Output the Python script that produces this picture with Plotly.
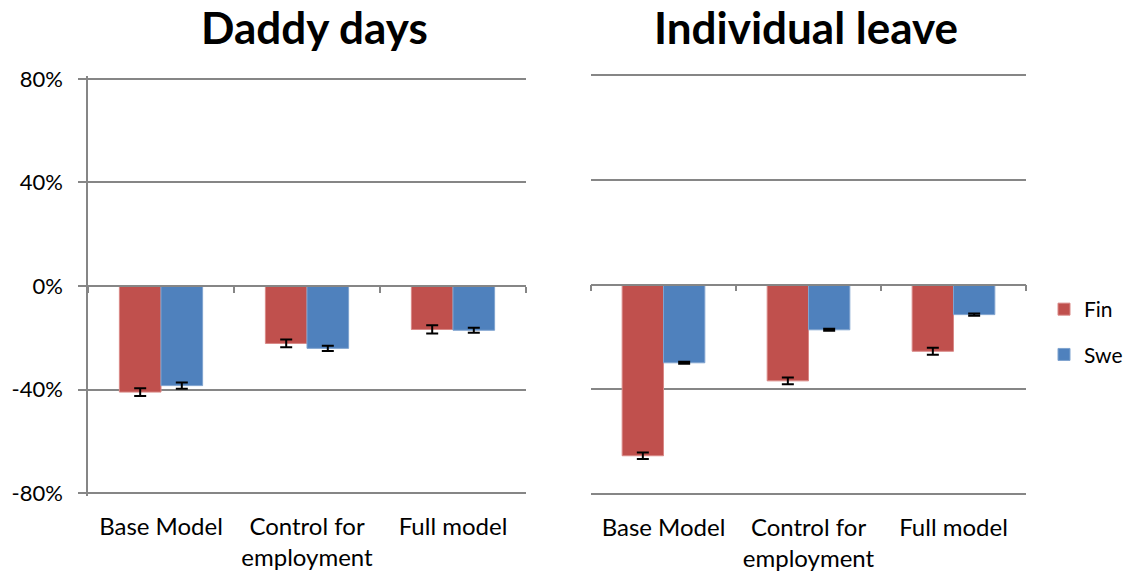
import plotly.graph_objects as go

categories = ["Base Model", "Control for<br>employment", "Full model"]
panels = ["Daddy days", "Individual leave"]

daddy_fin = [-41.0, -22.2, -16.8]
daddy_fin_err = [1.5, 1.5, 1.6]
daddy_swe = [-38.5, -24.1, -17.1]
daddy_swe_err = [1.2, 1.0, 1.0]

indiv_fin = [-65.4, -36.8, -25.5]
indiv_fin_err = [1.2, 1.3, 1.3]
indiv_swe = [-29.9, -17.3, -11.5]
indiv_swe_err = [0.4, 0.4, 0.4]

y_ticks = [-80, -40, 0, 40, 80]
y_tick_labels = ["-80%", "-40%", "0%", "40%", "80%"]
y_range = [-81, 81]

FIN_COLOR = "#C0504D"
SWE_COLOR = "#4F81BD"
GRID = "#868686"
FONT = "Lato"

W, H = 1127, 575

def px_x(a, b):
    return [a / W, b / W]

def px_y(top, bottom):
    return [(H - bottom) / H, (H - top) / H]

dom_x1 = px_x(88, 526)
dom_x2 = px_x(591, 1026)
dom_y1 = px_y(76.4, 495.6)
dom_y2 = px_y(72.4, 496.6)

fig = go.Figure()

def add_pair(fin, fin_err, swe, swe_err, xa, ya, show):
    fig.add_trace(go.Bar(
        x=categories, y=fin, name="Fin", marker=dict(color=FIN_COLOR, line=dict(color="#D98886", width=1)),
        error_y=dict(type="data", array=fin_err, color="black", thickness=2, width=6),
        xaxis=xa, yaxis=ya, showlegend=show, legendgroup="Fin"))
    fig.add_trace(go.Bar(
        x=categories, y=swe, name="Swe", marker=dict(color=SWE_COLOR, line=dict(color="#7FA3CF", width=1)),
        error_y=dict(type="data", array=swe_err, color="black", thickness=2, width=6),
        xaxis=xa, yaxis=ya, showlegend=show, legendgroup="Swe"))

add_pair(daddy_fin, daddy_fin_err, daddy_swe, daddy_swe_err, "x", "y", True)
add_pair(indiv_fin, indiv_fin_err, indiv_swe, indiv_swe_err, "x2", "y2", False)

# invisible traces for the zero-line tick axes
for xa in ["x3", "x4"]:
    fig.add_trace(go.Scatter(x=categories, y=[None] * 3, xaxis=xa, yaxis="y" if xa == "x3" else "y2",
                             showlegend=False, hoverinfo="skip", mode="markers"))

xcommon = dict(type="category", showgrid=False, zeroline=False, showline=False, ticks="",
               tickfont=dict(family=FONT, size=24, color="black"), ticklabelstandoff=14,
               range=[-0.5, 2.5], automargin=False)
ycommon = dict(range=y_range, tickvals=y_ticks, showgrid=True, gridcolor=GRID, gridwidth=1.5,
               zeroline=False, fixedrange=True, automargin=False)

zero_pos1 = dom_y1[0] + 0.5 * (dom_y1[1] - dom_y1[0])
zero_pos2 = dom_y2[0] + 0.5 * (dom_y2[1] - dom_y2[0])

zero_axis = dict(type="category", range=[-0.5, 2.5], showline=True, linecolor=GRID, linewidth=1.5,
                 ticks="outside", tickson="boundaries", ticklen=6, tickcolor=GRID, tickwidth=1.5,
                 showticklabels=False, showgrid=False, zeroline=False, automargin=False)

fig.update_layout(
    width=W, height=H, margin=dict(l=0, r=0, t=0, b=0, autoexpand=False),
    plot_bgcolor="white", paper_bgcolor="white",
    barmode="group", bargap=0.43, bargroupgap=0,
    font=dict(family=FONT, color="black"),
    xaxis=dict(domain=dom_x1, anchor="y", **xcommon),
    xaxis2=dict(domain=dom_x2, anchor="y2", **xcommon),
    xaxis3=dict(domain=dom_x1, overlaying="x", anchor="free", position=zero_pos1, **zero_axis),
    xaxis4=dict(domain=dom_x2, overlaying="x2", anchor="free", position=zero_pos2, **zero_axis),
    yaxis=dict(domain=dom_y1, anchor="x", ticktext=y_tick_labels, showline=True, linecolor=GRID,
               linewidth=1.5, ticks="outside", ticklen=8, tickcolor=GRID, tickwidth=1.5,
               tickfont=dict(family=FONT, size=22, color="black"), ticklabelstandoff=11, **ycommon),
    yaxis2=dict(domain=dom_y2, anchor="x2", showticklabels=False, showline=False, ticks="", **ycommon),
    legend=dict(x=1044 / W, y=(H - 289) / H, xanchor="left", yanchor="top",
                font=dict(family=FONT, size=21, color="black"), tracegroupgap=15,
                bgcolor="rgba(0,0,0,0)", itemwidth=30),
    annotations=[
        dict(text="<b>Daddy days</b>", x=314 / W, y=(H - 27) / H, xref="paper", yref="paper",
             showarrow=False, xanchor="center", yanchor="middle",
             font=dict(family=FONT, size=44, color="black")),
        dict(text="<b>Individual leave</b>", x=806 / W, y=(H - 27) / H, xref="paper", yref="paper",
             showarrow=False, xanchor="center", yanchor="middle",
             font=dict(family=FONT, size=44, color="black")),
    ],
)

fig.write_html("out.html", config={"displayModeBar": False},
               post_script="document.body.style.margin='0';")
